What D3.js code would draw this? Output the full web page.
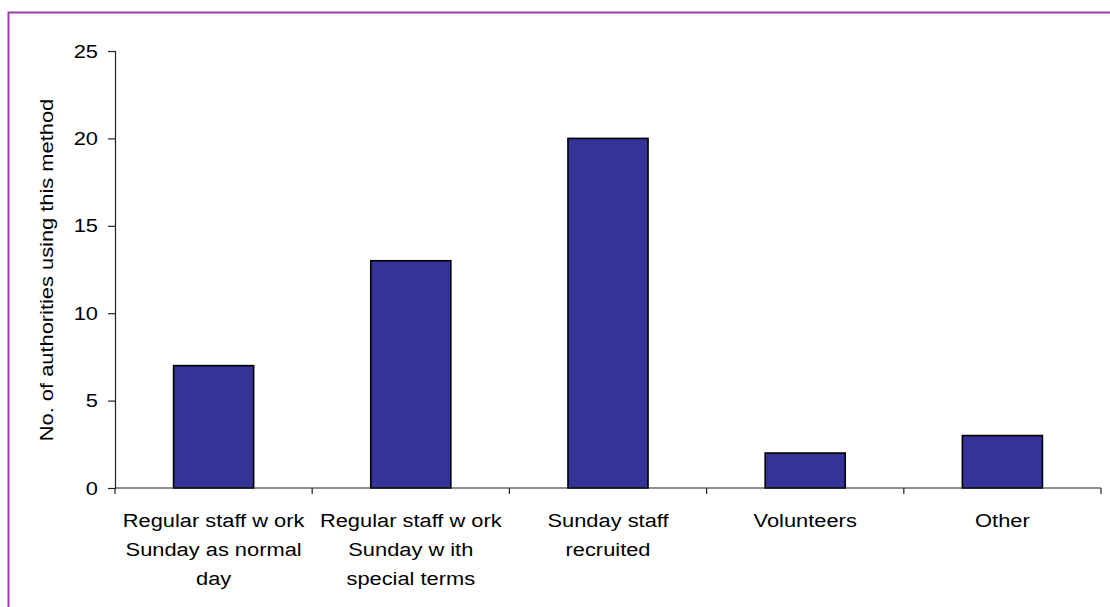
<!DOCTYPE html>
<html>
<head>
<meta charset="utf-8">
<script src="https://cdn.jsdelivr.net/npm/d3@7"></script>
<style>
  html, body { margin: 0; padding: 0; background: #fff; }
  svg { display: block; font-family: "Liberation Sans", Arial, sans-serif; }
</style>
</head>
<body>
<svg id="chart" width="1110" height="607"></svg>
<script>
const categories = ["Regular staff work Sunday as normal day", "Regular staff work Sunday with special terms", "Sunday staff recruited", "Volunteers", "Other"];
const categoryLines = [
  ["Regular staff w ork", "Sunday as normal", "day"],
  ["Regular staff w ork", "Sunday w ith", "special terms"],
  ["Sunday staff", "recruited"],
  ["Volunteers"],
  ["Other"]
];
const values = [7, 13, 20, 2, 3];
const yTicks = [0, 5, 10, 15, 20, 25];
const yTitle = "No. of authorities using this method";

const FS = 19, SX = 1.15;
const svg = d3.select("#chart");

// outer border
svg.append("rect")
  .attr("x", 8.5).attr("y", 12.5)
  .attr("width", 1200).attr("height", 700)
  .attr("fill", "none").attr("stroke", "#a03aa8").attr("stroke-width", 2);

const x0 = 115, x1 = 1101, yTop = 51, yBot = 488;

const x = d3.scaleBand().domain(categories).range([x0, x1]).paddingInner(0.594).paddingOuter(0.297);
const xs = d3.scaleBand().domain(categories).range([x0, x1]).padding(0);
const y = d3.scaleLinear().domain([0, 25]).range([yBot, yTop]);

// y axis
const yAxis = svg.append("g").attr("transform", `translate(${x0},0)`)
  .call(d3.axisLeft(y).tickValues(yTicks).tickSize(7).tickPadding(10));
yAxis.select(".domain").attr("stroke", "#222").attr("stroke-width", 1.2);
yAxis.selectAll(".tick line").attr("stroke", "#222").attr("stroke-width", 1.2);
yAxis.selectAll(".tick text")
  .attr("font-size", FS).attr("fill", "#000")
  .attr("font-family", "'Liberation Sans', Arial, sans-serif")
  .attr("x", 0)
  .attr("transform", `translate(-17,0) scale(${SX},1)`);

// bars
svg.append("g").selectAll("rect").data(values).join("rect")
  .attr("x", (d, i) => x(categories[i]))
  .attr("y", d => y(d))
  .attr("width", x.bandwidth())
  .attr("height", d => y(0) - y(d))
  .attr("fill", "#333399")
  .attr("stroke", "#000")
  .attr("stroke-width", 1.6);

// x axis line
svg.append("line").attr("x1", x0).attr("x2", x1).attr("y1", yBot).attr("y2", yBot)
  .attr("stroke", "#222").attr("stroke-width", 1.2);
// category boundary ticks
const bounds = categories.map(c => xs(c)).concat([xs(categories[categories.length - 1]) + xs.bandwidth()]);
svg.append("g").selectAll("line").data(bounds).join("line")
  .attr("x1", d => d).attr("x2", d => d)
  .attr("y1", yBot).attr("y2", yBot + 6)
  .attr("stroke", "#222").attr("stroke-width", 1.2);

// category labels
const lab = svg.append("g").attr("font-size", FS).attr("fill", "#000").attr("text-anchor", "middle");
categoryLines.forEach((lines, i) => {
  const cx = xs(categories[i]) + xs.bandwidth() / 2;
  lines.forEach((t, j) => {
    lab.append("text")
      .attr("transform", `translate(${cx},${527 + j * 29}) scale(${SX},1)`)
      .text(t);
  });
});

// y title
svg.append("text")
  .attr("transform", `translate(53,270) rotate(-90) scale(${SX},1)`)
  .attr("text-anchor", "middle")
  .attr("font-size", FS).attr("fill", "#000")
  .text(yTitle);
</script>
</body>
</html>
